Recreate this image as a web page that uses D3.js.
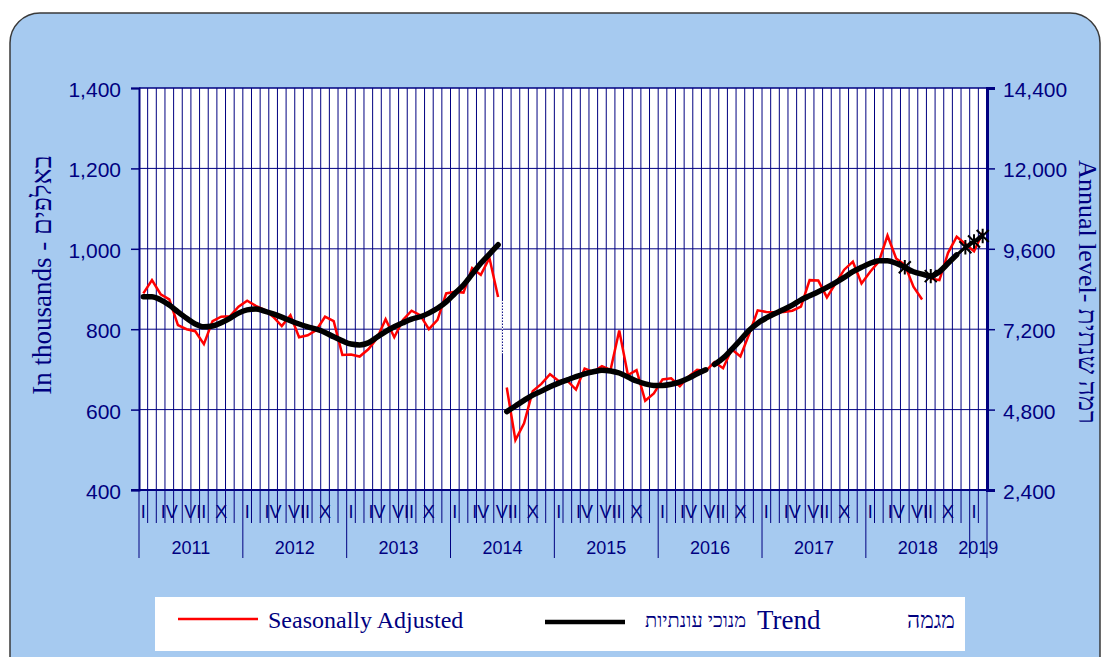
<!DOCTYPE html>
<html><head><meta charset="utf-8">
<script src="https://cdn.jsdelivr.net/npm/d3@7"></script>
<style>body{margin:0;background:#fff;} svg{display:block}</style>
</head><body>
<svg id="c" width="1102" height="657"></svg>
<script>
// ---------- data ----------
const years = [2011, 2012, 2013, 2014, 2015, 2016, 2017, 2018, 2019];
const monthsPerYear = [12, 12, 12, 12, 12, 12, 12, 12, 2];
const monthTickLabels = ["I", "", "", "IV", "", "", "VII", "", "", "X", "", ""];
const leftTicks = [400, 600, 800, 1000, 1200, 1400];
const rightTicks = [2400, 4800, 7200, 9600, 12000, 14400];

// Seasonally adjusted (thousands) – three segments, start = month index from Jan 2011
const seasAdj1Start = 0;
const seasAdj1 = [889, 922, 887, 874, 810, 800, 795, 763, 820, 831, 832, 856,
  871, 858, 848, 831, 808, 835, 780, 785, 798, 831, 820, 736,
  737, 732, 750, 777, 825, 780, 823, 846, 835, 800, 823, 889,
  893, 891, 952, 935, 977, 880];
const seasAdj2Start = 42;
const seasAdj2 = [655, 524, 566, 646, 664, 688,
  671, 672, 650, 702, 694, 708, 699, 797, 686, 698, 622, 640,
  675, 678, 658, 682, 699, 696, 718, 703, 750, 732, 787, 847,
  843, 842, 843, 846, 856, 922, 921, 879, 914, 948, 968, 914,
  943, 968, 1033, 976, 960, 906, 874];
const seasAdj3Start = 91;
const seasAdj3 = [926, 922, 990, 1030, 1012, 994, 1040];

// Trend – three segments
const trend1Start = 0;
const trend1 = [881, 881, 873, 860, 843, 827, 813, 806, 808, 816, 827, 840,
  848, 850, 845, 838, 830, 821, 813, 806, 800, 792, 781, 771,
  763, 761, 766, 780, 794, 806, 816, 825, 831, 840, 852, 868,
  889, 910, 937, 964, 987, 1010];
const trend2Start = 42;
const trend2 = [595, 609, 623, 636, 646, 657,
  666, 674, 682, 689, 694, 698, 696, 691, 681, 671, 664, 660,
  660, 663, 669, 678, 689, 699];
const trend3Start = 66;
const trend3 = [712, 728, 750, 773, 797, 815,
  828, 839, 849, 860, 873, 883, 893, 904, 916, 929, 943, 954,
  964, 970, 970, 964, 954, 943, 937, 932, 943, 964, 985];

// Trend points marked with asterisks
const starMonths = [88, 91, 95, 96, 97];
const starValues = [954, 932, 1004, 1018, 1032];

// series break marker (dotted white) between Jun and Jul 2014
const breakMonth = 42;
const breakRange = [870, 740];

// ---------- layout ----------
const svg = d3.select("#c");
const navy = "#000080";
const nMonths = d3.sum(monthsPerYear);

const x = d3.scaleBand().domain(d3.range(nMonths)).range([139, 987]).padding(0);
const bw = x.bandwidth();
const xc = i => x(i) + bw / 2;
const xb = i => (i < nMonths ? x(i) : x(nMonths - 1) + bw);
const y = d3.scaleLinear().domain([400, 1400]).range([490, 88]);
const yR = d3.scaleLinear().domain([2400, 14400]).range([490, 88]);
const [x0, x1] = x.range();
const [yB, yT] = y.range();
const sans = "'Liberation Sans', Arial, sans-serif";
const serif = "'Liberation Serif', 'Times New Roman', serif";

// background panel
svg.append("rect").attr("x", 10).attr("y", 13).attr("width", 1090).attr("height", 720)
  .attr("rx", 30).attr("fill", "#a6caf0").attr("stroke", "#3a3a3a").attr("stroke-width", 1.5);

// plot area
svg.append("rect").attr("x", x0).attr("y", yT).attr("width", x1 - x0).attr("height", yB - yT)
  .attr("fill", "#fff");

// vertical gridlines
svg.append("g").selectAll("line").data(d3.range(1, nMonths)).join("line")
  .attr("x1", d => xb(d)).attr("x2", d => xb(d)).attr("y1", yT).attr("y2", yB)
  .attr("stroke", navy).attr("stroke-width", 1);

// horizontal gridlines
svg.append("g").selectAll("line").data(leftTicks.slice(1)).join("line")
  .attr("x1", x0).attr("x2", x1).attr("y1", d => y(d)).attr("y2", d => y(d))
  .attr("stroke", navy).attr("stroke-width", d => d === 1400 ? 1.5 : 1);

// left axis
const la = d3.axisLeft(y).tickValues(leftTicks).tickFormat(d3.format(",")).tickSize(8).tickPadding(10);
const gL = svg.append("g").attr("transform", `translate(${x0},0)`).call(la);
gL.select(".domain").attr("stroke", navy).attr("stroke-width", 2);
gL.selectAll(".tick line").attr("stroke", navy).attr("stroke-width", 1.5);
gL.selectAll("text").attr("fill", navy).style("font-family", sans)
  .style("font-size", "21px").attr("dy", "0.4em");

// right axis
const ra = d3.axisRight(yR).tickValues(rightTicks).tickFormat(d3.format(",")).tickSize(8).tickPadding(8);
const gR = svg.append("g").attr("transform", `translate(${x1},0)`).call(ra);
gR.select(".domain").attr("stroke", navy).attr("stroke-width", 3);
gR.selectAll(".tick line").attr("stroke", navy).attr("stroke-width", 1.5);
gR.selectAll("text").attr("fill", navy).style("font-family", sans)
  .style("font-size", "21px").attr("dy", "0.4em");

// bottom axis line
svg.append("line").attr("x1", x0 - 8).attr("x2", x1).attr("y1", yB).attr("y2", yB)
  .attr("stroke", navy).attr("stroke-width", 2);

// month ticks & year separators below axis
const yearStarts = [];
let acc = 0;
monthsPerYear.forEach(m => { yearStarts.push(acc); acc += m; });
const isYearStart = i => yearStarts.includes(i) || i === nMonths;
svg.append("g").selectAll("line").data(d3.range(0, nMonths + 1)).join("line")
  .attr("x1", d => xb(d)).attr("x2", d => xb(d)).attr("y1", yB)
  .attr("y2", d => isYearStart(d) ? yB + 68 : yB + 33)
  .attr("stroke", navy).attr("stroke-width", 1);

// month labels
const monthLab = [];
years.forEach((yr, k) => {
  for (let m = 0; m < monthsPerYear[k]; m++) {
    if (monthTickLabels[m]) monthLab.push({ i: yearStarts[k] + m, t: monthTickLabels[m] });
  }
});
svg.append("g").selectAll("text").data(monthLab).join("text")
  .attr("x", d => xc(d.i)).attr("y", yB + 22).attr("dy", "0.36em")
  .attr("text-anchor", "middle").attr("fill", navy)
  .style("font-family", sans).style("font-size", "18px")
  .text(d => d.t);

// year labels
svg.append("g").selectAll("text").data(years).join("text")
  .attr("x", (d, k) => (xb(yearStarts[k]) + xb(yearStarts[k] + monthsPerYear[k])) / 2)
  .attr("y", yB + 58).attr("dy", "0.36em")
  .attr("text-anchor", "middle").attr("fill", navy)
  .style("font-family", sans).style("font-size", "18px")
  .text(d => d);

// axis titles
svg.append("text").attr("transform", `translate(42,${(yT + yB) / 2 - 14}) rotate(-90)`)
  .attr("text-anchor", "middle").attr("dy", "0.35em").attr("fill", navy)
  .style("font-family", serif).style("font-size", "27px")
  .text("In thousands - באלפים");
svg.append("text").attr("transform", `translate(1087,${(yT + yB) / 2 + 3}) rotate(90)`)
  .attr("text-anchor", "middle").attr("dy", "0.32em").attr("fill", navy)
  .style("font-family", serif).style("font-size", "26px")
  .text("Annual level- רמה שנתית");

// lines
const line = d3.line().x(d => xc(d.i)).y(d => y(d.v));
const seg = (start, arr) => arr.map((v, k) => ({ i: start + k, v }));

const plot = svg.append("g");
[[seasAdj1Start, seasAdj1], [seasAdj2Start, seasAdj2], [seasAdj3Start, seasAdj3]].forEach(([s, a]) => {
  plot.append("path").datum(seg(s, a)).attr("d", line).attr("fill", "none")
    .attr("stroke", "#ff0000").attr("stroke-width", 2.5).attr("stroke-linejoin", "miter");
});

// break marker
plot.append("line").attr("x1", xb(breakMonth)).attr("x2", xb(breakMonth))
  .attr("y1", y(breakRange[0])).attr("y2", y(breakRange[1]))
  .attr("stroke", "#fff").attr("stroke-width", 1.2).attr("stroke-dasharray", "1.5,1.5");

const smooth = d3.line().x(d => xc(d.i)).y(d => y(d.v)).curve(d3.curveMonotoneX);
[[trend1Start, trend1], [trend2Start, trend2], [trend3Start, trend3]].forEach(([s, a]) => {
  plot.append("path").datum(seg(s, a)).attr("d", smooth).attr("fill", "none")
    .attr("stroke", "#000").attr("stroke-width", 5.5).attr("stroke-linecap", "round")
    .attr("stroke-linejoin", "round");
});

const stars = starMonths.map((m, k) => ({ i: m, v: starValues[k] }));
const tail = stars.filter(d => d.i >= 94);
plot.append("path").datum(tail).attr("d", line).attr("fill", "none")
  .attr("stroke", "#000").attr("stroke-width", 3.5);
plot.append("path").datum([{ i: trend3Start + trend3.length - 1, v: trend3[trend3.length - 1] }, tail[0]])
  .attr("d", line).attr("fill", "none").attr("stroke", "#000").attr("stroke-width", 3);
const r = 6;
plot.append("g").selectAll("path").data(stars).join("path")
  .attr("transform", d => `translate(${xc(d.i)},${y(d.v)})`)
  .attr("d", `M${-r},${-r}L${r},${r}M${-r},${r}L${r},${-r}M0,${-r * 1.2}L0,${r * 1.2}`)
  .attr("stroke", "#000").attr("stroke-width", 2).attr("fill", "none");

// legend
const lg = svg.append("g");
lg.append("rect").attr("x", 155).attr("y", 597).attr("width", 810).attr("height", 54).attr("fill", "#fff");
lg.append("line").attr("x1", 178).attr("x2", 258).attr("y1", 619).attr("y2", 619)
  .attr("stroke", "#ff0000").attr("stroke-width", 2.5);
lg.append("text").attr("x", 268).attr("y", 620).attr("dy", "0.35em").attr("fill", navy)
  .style("font-family", serif).style("font-size", "24px")
  .text("Seasonally Adjusted");
lg.append("line").attr("x1", 545).attr("x2", 625).attr("y1", 622).attr("y2", 622)
  .attr("stroke", "#000").attr("stroke-width", 4.5);
lg.append("text").attr("x", 645).attr("y", 620).attr("dy", "0.35em").attr("fill", navy)
  .style("font-family", serif).style("font-size", "20px")
  .text("מנוכי עונתיות");
lg.append("text").attr("x", 757).attr("y", 620).attr("dy", "0.35em").attr("fill", navy)
  .style("font-family", serif).style("font-size", "27px")
  .text("Trend");
lg.append("text").attr("x", 955).attr("y", 620).attr("dy", "0.35em").attr("fill", navy)
  .attr("text-anchor", "end")
  .style("font-family", serif).style("font-size", "23px")
  .text("מגמה");
</script>
</body></html>
